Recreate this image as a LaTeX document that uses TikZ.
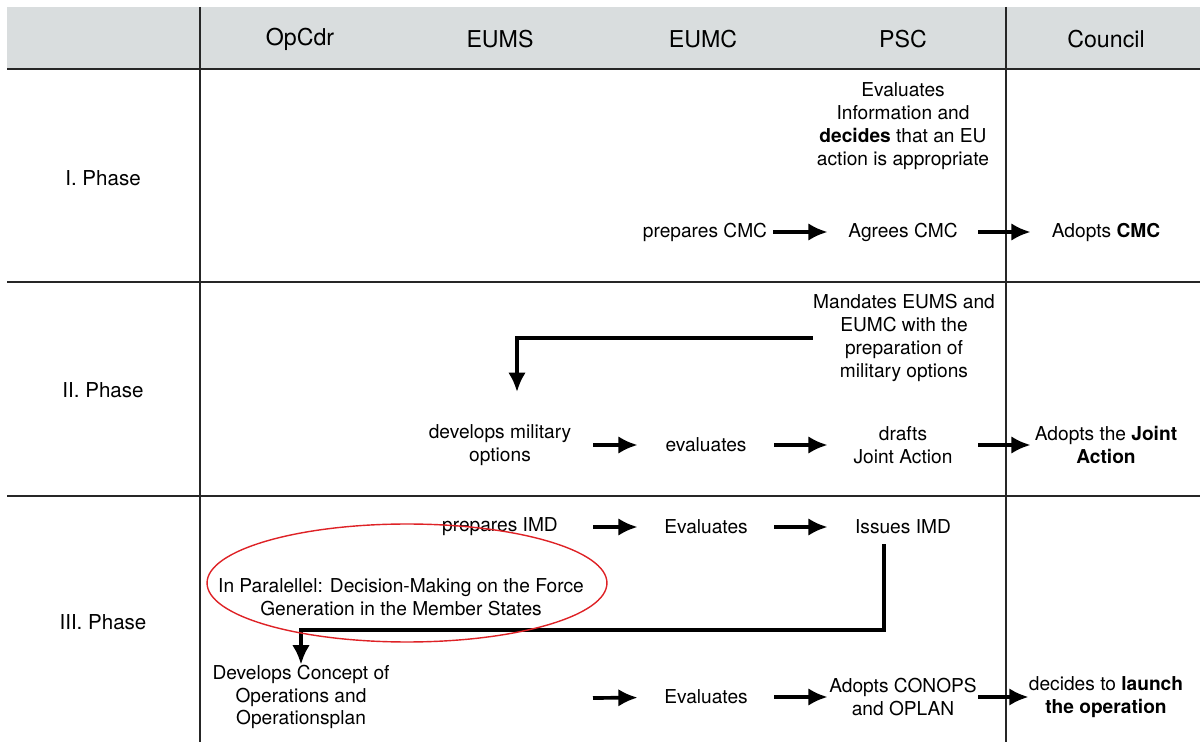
\documentclass[tikz,border=0pt]{standalone}
\usepackage{fontspec}
\setmainfont{TeX Gyre Heros}
\usetikzlibrary{arrows.meta, shapes.geometric}
\definecolor{headgray}{RGB}{217,221,222}
\definecolor{ringred}{RGB}{222,34,38}

\begin{document}
\begin{tikzpicture}[
    x=0.02cm, y=-0.02cm,
    cell/.style={inner sep=0pt, align=center, font=\fontsize{10.9}{13}\selectfont},
    eumscell/.style={cell, minimum width=3.72cm},
    eumccell/.style={cell, minimum width=2.72cm},
    psccell/.style={cell, minimum width=3cm},
    councell/.style={cell, minimum width=3cm},
    head/.style={font=\fontsize{13.2}{15}\selectfont},
    phase/.style={font=\fontsize{11.7}{14}\selectfont},
    gridline/.style={line width=1.1pt, black!85},
    arrow/.style={-{Latex[length=11pt, width=10pt]}, line width=2.1pt},
    ring/.style={draw=ringred, ellipse, line width=0.8pt, minimum width=8cm, minimum height=2.36cm}
]
\useasboundingbox (0,0) rectangle (1200,742);

% table frame
\fill[headgray] (7,7) rectangle (1200,69);
\draw[gridline] (7,69) -- (1200,69);
\draw[gridline] (7,282) -- (1200,282);
\draw[gridline] (7,496) -- (1200,496);
\draw[gridline] (200,7) -- (200,742);
\draw[gridline] (1006,7) -- (1006,742);

% header
\node[head] (hopcdr) at (300,39) {OpCdr};
\node[head] (heums) at (500,39) {EUMS};
\node[head] (heumc) at (703,39) {EUMC};
\node[head] (hpsc) at (903,39) {PSC};
\node[head] (hcouncil) at (1106,39) {Council};

\node[phase] (phone) at (103,178) {I. Phase};
\node[phase] (phtwo) at (103,390) {II. Phase};
\node[phase] (phthree) at (103,622) {III. Phase};

% I. Phase
\node[cell] (evalinfo) at (903,126) {Evaluates\\Information and\\\textbf{decides} that an EU\\action is appropriate};
\node[eumccell] (prepcmc) at (705,232) {prepares CMC};
\node[psccell] (agreecmc) at (903,232) {Agrees CMC};
\node[councell] (adoptcmc) at (1106,232) {Adopts \textbf{CMC}};

% II. Phase
\node[cell] (mandate) at (904,338) {Mandates EUMS and\\EUMC with the\\preparation of\\military options};
\coordinate (devin) at (517,392);
\node[eumscell] (devopt) at (500,445) {develops military\\options};
\node[eumccell] (evalopt) at (706,445) {evaluates};
\node[psccell] (draftja) at (903,445) {drafts\\Joint Action};
\node[councell] (adoptja) at (1106,445) {Adopts the \textbf{Joint}\\\textbf{Action}};

% III. Phase
\node[eumscell] (prepimd) at (500,527) {prepares IMD};
\node[eumccell] (evalimd) at (706,527) {Evaluates};
\node[psccell] (issueimd) at (903,527) {Issues IMD};
\coordinate (imdbend) at (884,630);
\node[cell] (parallel) at (401,597) {In Paralellel: Decision-Making on the Force\\Generation in the Member States};
\node[cell] (concept) at (301,697) {Develops Concept of\\Operations and\\Operationsplan};
\coordinate (eumsgap) at (593,698);
\node[eumccell] (evalconops) at (706,697) {Evaluates};
\node[psccell] (adoptconops) at (903,697) {Adopts CONOPS\\and OPLAN};
\node[councell] (launch) at (1106,697) {decides to \textbf{launch}\\\textbf{the operation}};

\draw[arrow] (prepcmc) -- (agreecmc);
\draw[arrow] (agreecmc) -- (adoptcmc);
\draw[arrow] (mandate.west) -| (devin);
\draw[arrow] (devopt) -- (evalopt);
\draw[arrow] (evalopt) -- (draftja);
\draw[arrow] (draftja) -- (adoptja);
\draw[arrow] (prepimd) -- (evalimd);
\draw[arrow] (evalimd) -- (issueimd);
\draw[arrow] ([yshift=-0.2cm]imdbend |- issueimd.south) -- (imdbend) -| (concept.north);
\draw[arrow] (eumsgap) -- (evalconops);
\draw[arrow] (evalconops) -- (adoptconops);
\draw[arrow] (adoptconops) -- (launch);

% annotation
\node[ring] (parring) at (407,583) {};
\end{tikzpicture}
\end{document}
